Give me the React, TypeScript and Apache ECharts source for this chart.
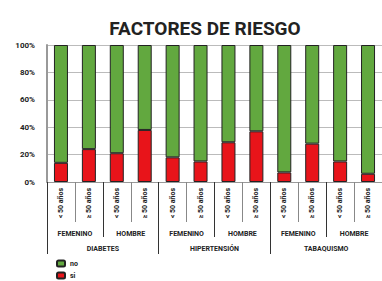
import React, { useEffect, useRef } from "react";
import * as echarts from "echarts";

const barLabels = ["< 50 años", "≥ 50 años", "< 50 años", "≥ 50 años", "< 50 años", "≥ 50 años", "< 50 años", "≥ 50 años", "< 50 años", "≥ 50 años", "< 50 años", "≥ 50 años"];
const subgroupLabels = ["FEMENINO", "HOMBRE", "FEMENINO", "HOMBRE", "FEMENINO", "HOMBRE"];
const groupLabels = ["DIABETES", "HIPERTENSIÓN", "TABAQUISMO"];
const siValues = [14, 24, 21, 38, 18, 15, 29, 37, 7, 28, 15, 6];
const noValues = [86, 76, 79, 62, 82, 85, 71, 63, 93, 72, 85, 94];
const yTicks = [0, 20, 40, 60, 80, 100];

export default function App() {
  const ref = useRef<HTMLDivElement>(null);
  useEffect(() => {
    document.body.style.margin = "0";
    const chart = echarts.init(ref.current!, null, { renderer: "svg" });
    const font = "Roboto";
    const tickColor = "#333";
    chart.setOption({
      animation: false,
      backgroundColor: "#fff",
      title: {
        text: "FACTORES DE RIESGO",
        left: 200,
        textAlign: "center",
        top: 14,
        textStyle: { fontFamily: font, fontSize: 19, fontWeight: "bold", color: "#222" },
      },
      legend: {
        data: ["no", "si"],
        orient: "vertical",
        left: 56,
        top: 259,
        padding: 0,
        itemWidth: 8,
        itemHeight: 6,
        itemGap: 3,
        textStyle: { fontFamily: font, fontSize: 7, fontWeight: "bold", color: "#222", lineHeight: 9 },
      },
      grid: { left: 47, top: 45, height: 137, width: 344, containLabel: false },
      yAxis: {
        type: "value",
        min: 0,
        max: 100,
        interval: 20,
        axisLine: { show: true, lineStyle: { color: "#999", width: 2 } },
        axisTick: { show: false },
        splitLine: { lineStyle: { color: "#bbb" } },
        axisLabel: {
          formatter: (v: number) => (yTicks.includes(v) ? v + "%" : ""),
          fontFamily: font,
          fontSize: 8,
          fontWeight: "bold",
          color: "#222",
          margin: 12,
        },
      },
      xAxis: [
        {
          type: "category",
          data: barLabels,
          position: "bottom",
          axisLine: { show: true, lineStyle: { color: "#999" } },
          axisTick: { show: true, length: 40, interval: 0, lineStyle: { color: "#888" } },
          axisLabel: {
            rotate: 90,
            interval: 0,
            margin: 6,
            fontFamily: font,
            fontSize: 7,
            fontWeight: "bold",
            color: "#222",
          },
        },
        {
          type: "category",
          data: subgroupLabels,
          position: "bottom",
          axisLine: { show: false },
          axisTick: { show: true, length: 55, interval: 0, lineStyle: { color: tickColor } },
          axisLabel: {
            interval: 0,
            margin: 48,
            fontFamily: font,
            fontSize: 7,
            fontWeight: "bold",
            color: "#222",
          },
        },
        {
          type: "category",
          data: groupLabels,
          position: "bottom",
          axisLine: { show: false },
          axisTick: { show: true, length: 72, interval: 0, lineStyle: { color: tickColor } },
          axisLabel: {
            interval: 0,
            margin: 63,
            fontFamily: font,
            fontSize: 7,
            fontWeight: "bold",
            color: "#222",
          },
        },
      ],
      series: [
        {
          name: "si",
          type: "bar",
          stack: "total",
          xAxisIndex: 0,
          barWidth: 14,
          data: siValues,
          itemStyle: { color: "#e8141a", borderColor: "#222", borderWidth: 1 },
        },
        {
          name: "no",
          type: "bar",
          stack: "total",
          xAxisIndex: 0,
          barWidth: 14,
          data: noValues,
          itemStyle: { color: "#62a83f", borderColor: "#222", borderWidth: 1 },
        },
      ],
    });
    return () => chart.dispose();
  }, []);
  return <div ref={ref} style={{ width: 382, height: 281 }} />;
}
